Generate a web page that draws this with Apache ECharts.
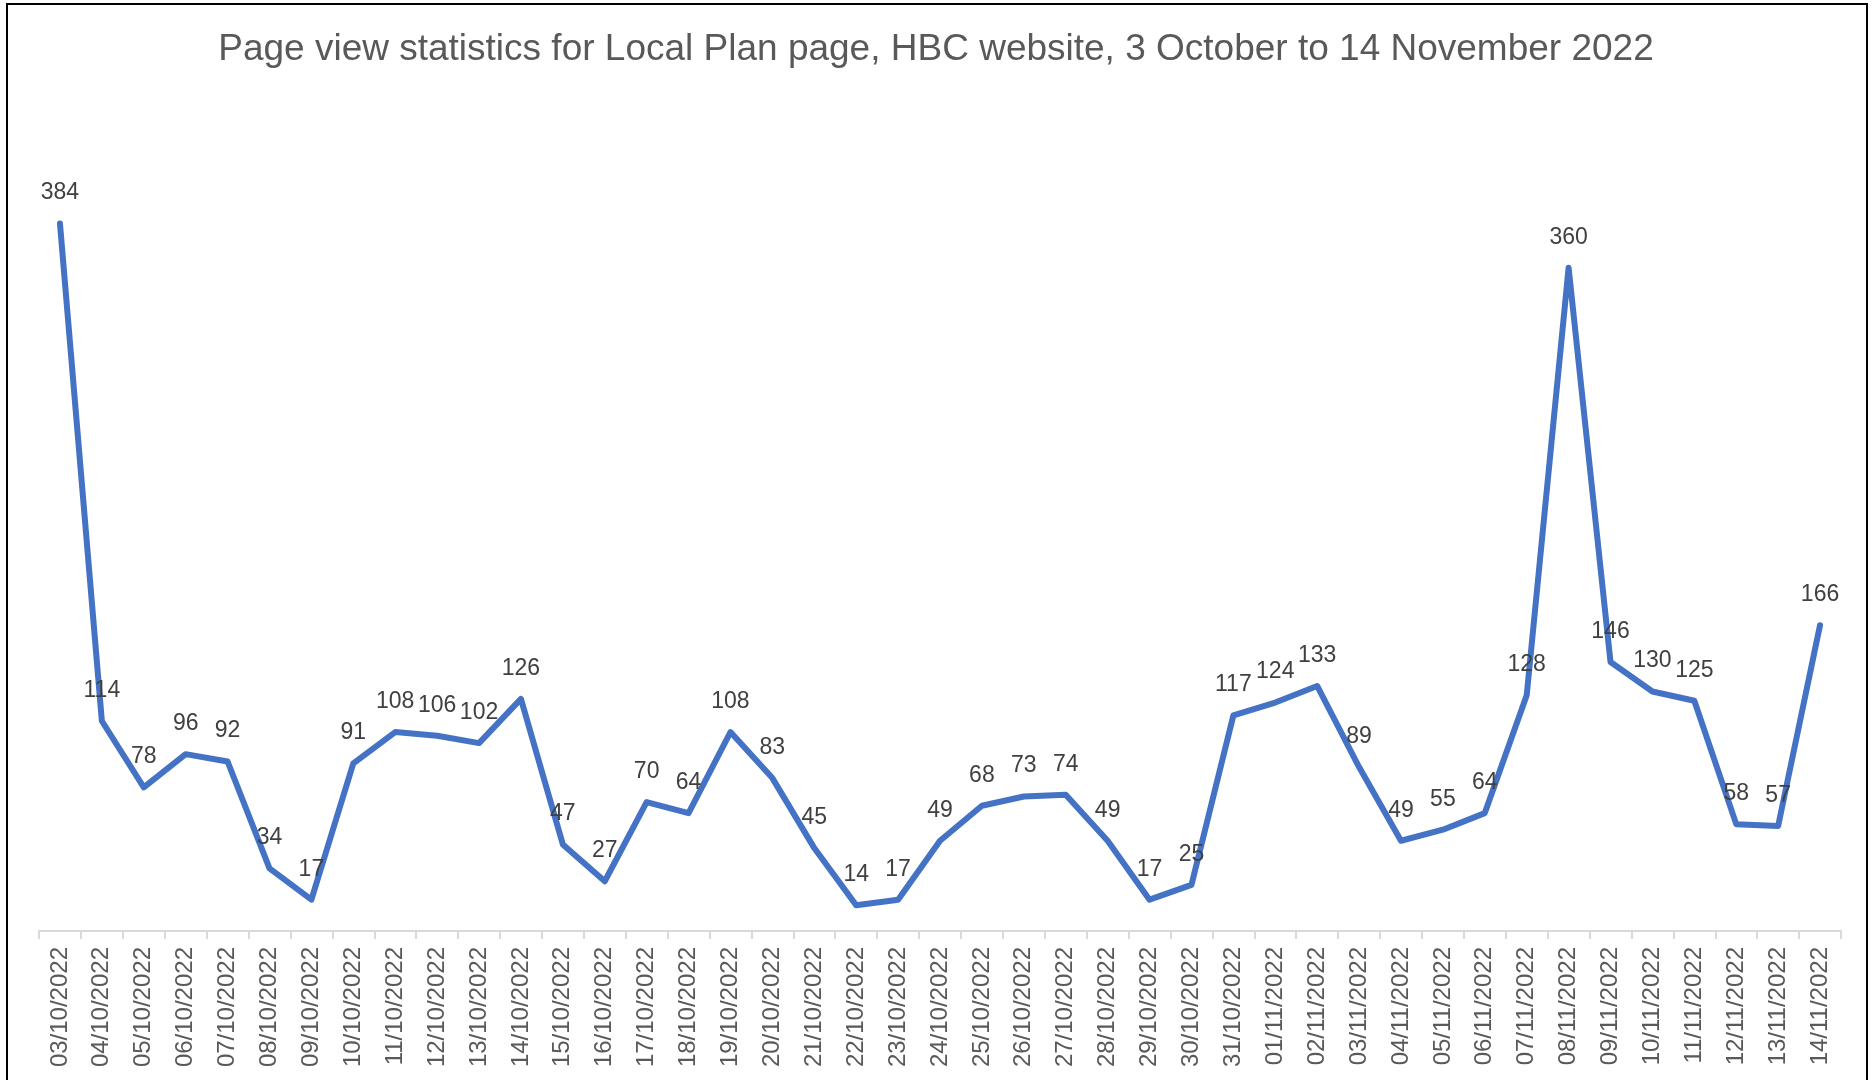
<!DOCTYPE html>
<html>
<head>
<meta charset="utf-8">
<title>Page view statistics</title>
<script src="https://cdn.jsdelivr.net/npm/echarts@6/dist/echarts.min.js"></script>
<style>
    html, body { margin: 0; padding: 0; background: #fff; }
    #chart { width: 1872px; height: 1080px; }
</style>
</head>
<body>
<div id="chart"></div>
<script>
const TITLE = 'Page view statistics for Local Plan page, HBC website, 3 October to 14 November 2022';

const dates = [
    '03/10/2022', '04/10/2022', '05/10/2022', '06/10/2022', '07/10/2022', '08/10/2022', '09/10/2022',
    '10/10/2022', '11/10/2022', '12/10/2022', '13/10/2022', '14/10/2022', '15/10/2022', '16/10/2022',
    '17/10/2022', '18/10/2022', '19/10/2022', '20/10/2022', '21/10/2022', '22/10/2022', '23/10/2022',
    '24/10/2022', '25/10/2022', '26/10/2022', '27/10/2022', '28/10/2022', '29/10/2022', '30/10/2022',
    '31/10/2022', '01/11/2022', '02/11/2022', '03/11/2022', '04/11/2022', '05/11/2022', '06/11/2022',
    '07/11/2022', '08/11/2022', '09/11/2022', '10/11/2022', '11/11/2022', '12/11/2022', '13/11/2022',
    '14/11/2022'
];

const pageViews = [
    384, 114, 78, 96, 92, 34, 17,
    91, 108, 106, 102, 126, 47, 27,
    70, 64, 108, 83, 45, 14, 17,
    49, 68, 73, 74, 49, 17, 25,
    117, 124, 133, 89, 49, 55, 64,
    128, 360, 146, 130, 125, 58, 57,
    166
];

const yMin = 0;
const yMax = 450;

const FONT = '"Liberation Sans", Arial, sans-serif';
const LINE_COLOR = '#4472C4';

const chart = echarts.init(document.getElementById('chart'));

chart.setOption({
    animation: false,
    backgroundColor: '#fff',
    textStyle: { fontFamily: FONT },
    title: {
        text: TITLE,
        left: 'center',
        top: 26,
        textStyle: {
            fontFamily: FONT,
            fontSize: 37,
            fontWeight: 'normal',
            color: '#595959'
        }
    },
    graphic: [{
        type: 'rect',
        shape: { x: 7, y: 4, width: 1860, height: 1090 },
        style: { fill: 'none', stroke: '#000', lineWidth: 2 },
        silent: true
    }],
    grid: { left: 39, right: 31, top: 102, bottom: 149 },
    xAxis: {
        type: 'category',
        data: dates,
        boundaryGap: true,
        axisLine: { lineStyle: { color: '#d9d9d9', width: 2 } },
        axisTick: { show: true, length: 8, lineStyle: { color: '#d9d9d9', width: 2 } },
        axisLabel: {
            interval: 0,
            rotate: 90,
            margin: 16,
            fontSize: 24,
            color: '#595959',
            fontFamily: FONT
        }
    },
    yAxis: {
        type: 'value',
        min: yMin,
        max: yMax,
        show: false,
        splitLine: { show: false }
    },
    series: [{
        name: 'Page views',
        type: 'line',
        data: pageViews,
        symbol: 'circle',
        symbolSize: 2,
        showSymbol: true,
        itemStyle: { color: LINE_COLOR },
        lineStyle: { color: LINE_COLOR, width: 6, cap: 'round', join: 'round' },
        label: {
            show: true,
            position: 'top',
            distance: 18,
            fontSize: 23,
            color: '#404040',
            fontFamily: FONT
        },
        labelLayout: { hideOverlap: false }
    }]
});

window.addEventListener('resize', () => chart.resize());
</script>
</body>
</html>
